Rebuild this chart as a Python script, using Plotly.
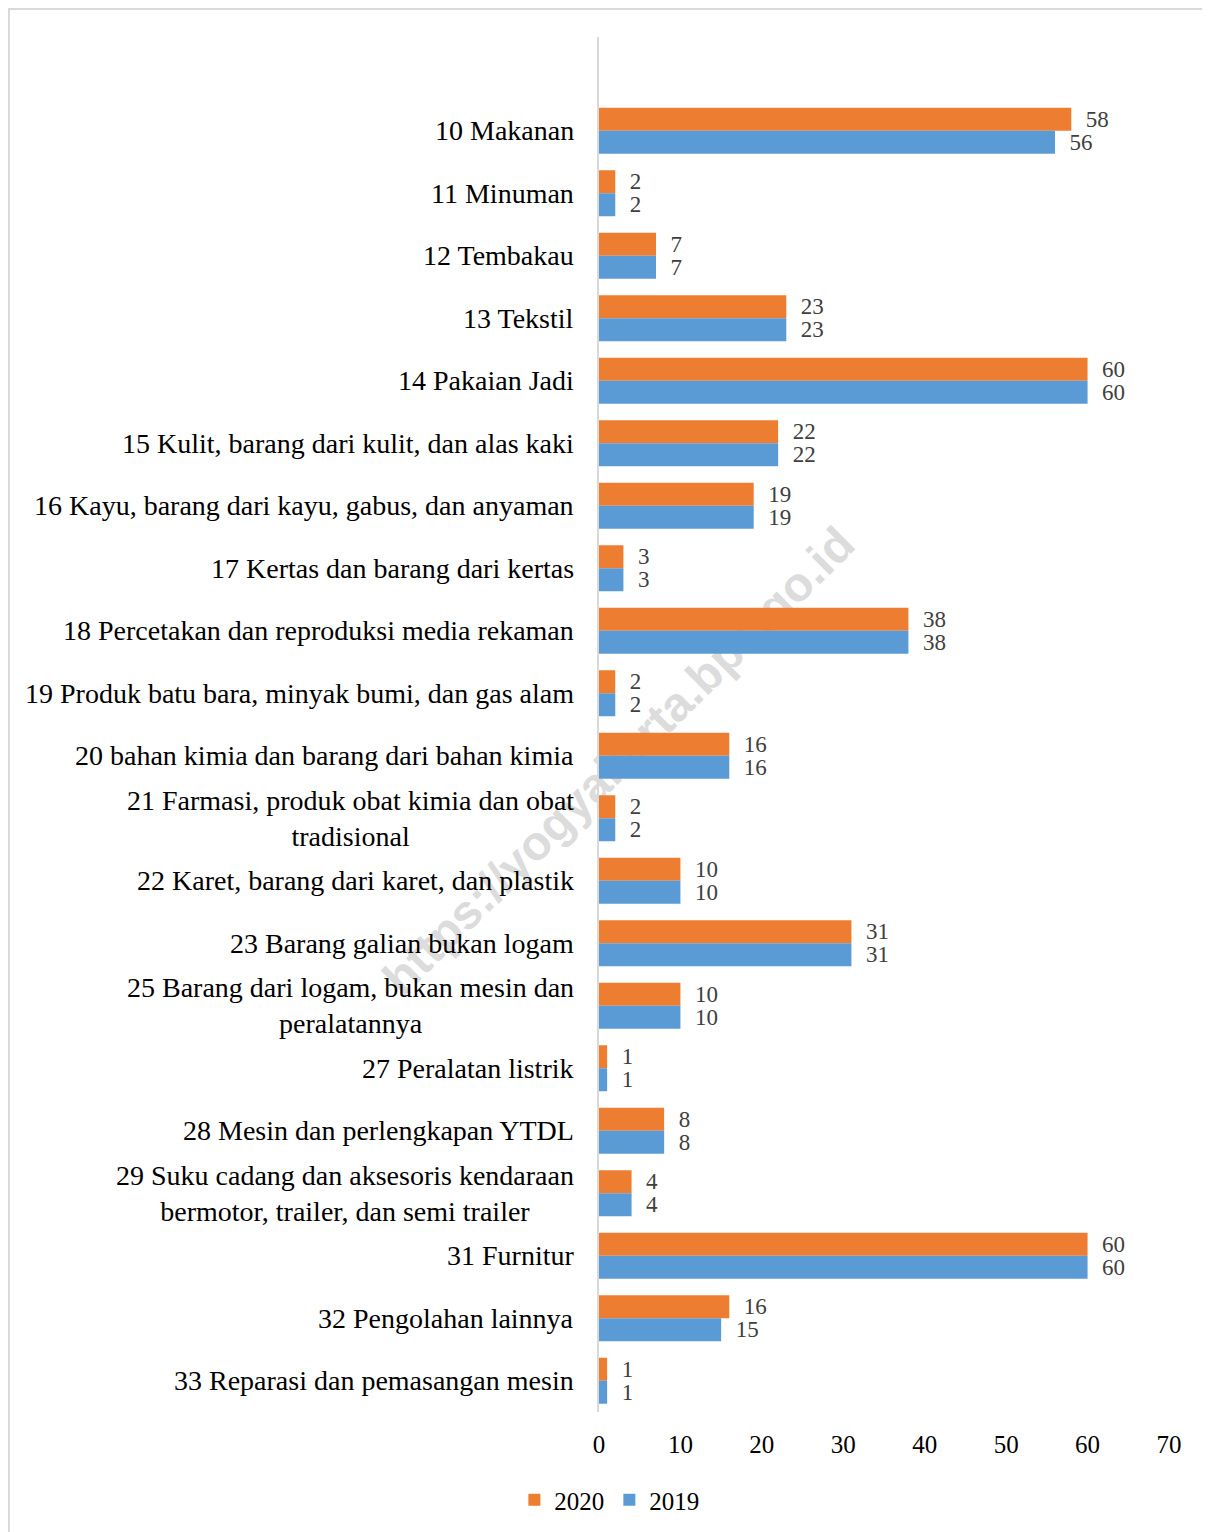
import plotly.graph_objects as go

categories = [
    "10 Makanan",
    "11 Minuman",
    "12 Tembakau",
    "13 Tekstil",
    "14 Pakaian Jadi",
    "15 Kulit, barang dari kulit, dan alas kaki",
    "16 Kayu, barang dari kayu, gabus, dan anyaman",
    "17 Kertas dan barang dari kertas",
    "18 Percetakan dan reproduksi media rekaman",
    "19 Produk batu bara, minyak bumi, dan gas alam",
    "20 bahan kimia dan barang dari bahan kimia",
    "21 Farmasi, produk obat kimia dan obat<br>tradisional",
    "22 Karet, barang dari karet, dan plastik",
    "23 Barang galian bukan logam",
    "25 Barang dari logam, bukan mesin dan<br>peralatannya",
    "27 Peralatan listrik",
    "28 Mesin dan perlengkapan YTDL",
    "29 Suku cadang dan aksesoris kendaraan<br>bermotor, trailer, dan semi trailer",
    "31 Furnitur",
    "32 Pengolahan lainnya",
    "33 Reparasi dan pemasangan mesin",
]
values_2020 = [58, 2, 7, 23, 60, 22, 19, 3, 38, 2, 16, 2, 10, 31, 10, 1, 8, 4, 60, 16, 1]
values_2019 = [56, 2, 7, 23, 60, 22, 19, 3, 38, 2, 16, 2, 10, 31, 10, 1, 8, 4, 60, 15, 1]
x_ticks = [0, 10, 20, 30, 40, 50, 60, 70]
watermark = "https://yogyakarta.bps.go.id"

SERIF = "Liberation Serif, Times New Roman, serif"
ORANGE = "#ED7D31"
BLUE = "#5B9BD5"

L, R, T, B = 591, 49, 29, 128
W, H = 1210, 1532
PW, PH = W - L - R, H - T - B

fig = go.Figure()
for name, vals, color in [("2020", values_2020, ORANGE), ("2019", values_2019, BLUE)]:
    fig.add_trace(go.Bar(
        name=name, y=categories, x=vals, orientation="h",
        marker=dict(color=color, line=dict(width=0)),
        text=vals, texttemplate="\u00a0\u00a0%{x}", textposition="outside",
        constraintext="none", cliponaxis=False,
        outsidetextfont=dict(family=SERIF, size=23, color="#404040"),
    ))

# category labels as centred multi-line annotations
for cat in categories:
    fig.add_annotation(
        x=0, xref="x", y=cat, yref="y", text=cat, showarrow=False,
        xanchor="right", yanchor="middle", align="center", xshift=-23,
        font=dict(family=SERIF, size=28, color="#000000"),
    )

fig.update_layout(
    width=W, height=H,
    paper_bgcolor="white", plot_bgcolor="white",
    margin=dict(l=L, r=R, t=T, b=B),
    barmode="group", bargap=0.264, bargroupgap=0,
    font=dict(family=SERIF, size=24, color="#000000"),
    showlegend=True,
    legend=dict(orientation="h", xref="container", yref="container",
                x=0.497, y=1 - 1492 / H, xanchor="center", yanchor="middle",
                font=dict(family=SERIF, size=25, color="#000000"),
                itemwidth=30, traceorder="normal"),
    xaxis=dict(range=[0, 70], tickvals=x_ticks, showgrid=False, zeroline=False,
               showline=False, ticks="outside", ticklen=10, tickcolor="rgba(0,0,0,0)",
               tickfont=dict(family=SERIF, size=25, color="#000000")),
    yaxis=dict(type="category", categoryorder="array", categoryarray=categories,
               range=[20.5, -1.5], showticklabels=False, showgrid=False,
               zeroline=False, showline=True, linecolor="#d9d9d9", linewidth=2,
               ticks=""),
)

# outer border
fig.add_shape(type="rect", xref="paper", yref="paper",
              x0=(1 - L) / PW, x1=(W + 10 - L) / PW,
              y0=(PH + T - (H + 10)) / PH, y1=(PH + T - 1) / PH,
              line=dict(color="#d9d9d9", width=2), fillcolor="rgba(0,0,0,0)",
              layer="below")

# watermark behind bars
wx = (607 - L) / PW
wy = (PH + T - 749) / PH
fig.add_shape(type="rect", xref="paper", yref="paper",
              x0=wx - 0.03, x1=wx + 0.03, y0=wy - 0.01, y1=wy + 0.01,
              line=dict(width=0), fillcolor="rgba(0,0,0,0)", layer="below",
              label=dict(text=watermark, textangle=-44.7, textposition="middle center",
                         font=dict(family="Liberation Sans, Arial, sans-serif", size=48,
                                   color="#dcdcdc", weight="bold")))

fig.write_html("out.html")
